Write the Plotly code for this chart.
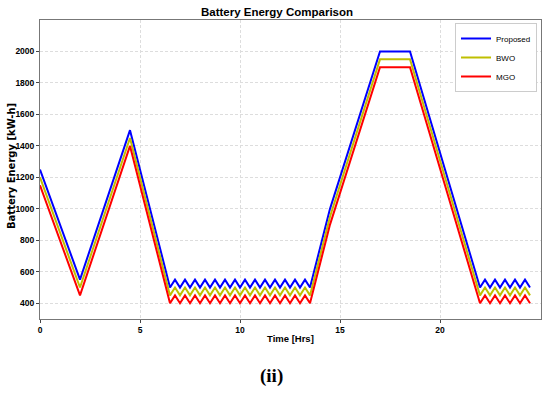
import plotly.graph_objects as go

# ---- data ----
t_first = [0, 2, 4.5, 6.5]
zig1_peaks = [6.75 + 0.5 * k for k in range(14)]
zig1_troughs = [7.0 + 0.5 * k for k in range(14)]
t_mid = [14.5, 17, 18.5, 22]
zig2_peaks = [22.25 + 0.5 * k for k in range(5)]
zig2_troughs = [22.5 + 0.5 * k for k in range(5)]

def build(first_vals, low, high, mid_vals):
    t = list(t_first)
    v = list(first_vals)
    for p, q in zip(zig1_peaks, zig1_troughs):
        t += [p, q]
        v += [high, low]
    t += t_mid
    v += mid_vals
    for p, q in zip(zig2_peaks, zig2_troughs):
        t += [p, q]
        v += [high, low]
    return t, v

series_names = ["Proposed", "BWO", "MGO"]
series_colors = ["#0000FF", "#BFBF00", "#FF0000"]
first_values = {
    "Proposed": [1250, 550, 1500, 500],
    "BWO": [1200, 500, 1450, 450],
    "MGO": [1150, 450, 1400, 400],
}
zig_low = {"Proposed": 500, "BWO": 450, "MGO": 400}
zig_high = {"Proposed": 550, "BWO": 500, "MGO": 450}
mid_values = {
    "Proposed": [1000, 2000, 2000, 500],
    "BWO": [950, 1950, 1950, 450],
    "MGO": [900, 1900, 1900, 400],
}
x_ticks = [0, 5, 10, 15, 20]
y_ticks = [400, 600, 800, 1000, 1200, 1400, 1600, 1800, 2000]

fig = go.Figure()
for name, color in zip(series_names, series_colors):
    t, v = build(first_values[name], zig_low[name], zig_high[name], mid_values[name])
    fig.add_trace(go.Scatter(x=t, y=v, mode="lines", name=name,
                             line=dict(color=color, width=2)))

W, H = 550, 393
L, R, T, B = 40, 9, 20, 74
PW, PH = W - L - R, H - T - B  # 501 x 299

def px(sx):  # screen x -> paper x
    return (sx - L) / PW

def py(sy):  # screen y -> paper y
    return 1 - (sy - T) / PH

tickfont = dict(family="Liberation Sans", size=8.5, color="black", weight="bold")
axis_common = dict(ticks="outside", ticklen=3, tickcolor="#444", tickfont=tickfont,
                   showline=True, linecolor="#777", linewidth=1, mirror=True,
                   showgrid=True, gridcolor="#dddddd", griddash="3px,2px", gridwidth=0.8,
                   zeroline=False, automargin=False)
fig.update_layout(
    width=W, height=H,
    margin=dict(l=L, r=R, t=T, b=B),
    paper_bgcolor="white", plot_bgcolor="white",
    title=dict(text="<b>Battery Energy Comparison</b>", x=277 / W, xanchor="center",
               y=1 - 12 / H, yanchor="middle",
               font=dict(family="Liberation Sans", size=11.5, color="black")),
    legend=dict(x=px(537), y=py(23), xanchor="right", yanchor="top",
                bgcolor="white", bordercolor="#cccccc", borderwidth=1,
                font=dict(family="Liberation Sans", size=8, color="black"),
                tracegroupgap=0, itemwidth=30),
    xaxis=dict(range=[0, 25.05], tickvals=x_ticks, **axis_common),
    yaxis=dict(range=[300, 2200], tickvals=y_ticks, **axis_common),
)
fig.add_annotation(text="<b>Time [Hrs]</b>", xref="paper", yref="paper",
                   x=px(290), y=py(338),
                   xanchor="center", yanchor="middle", showarrow=False,
                   font=dict(family="Liberation Sans", size=9.5, color="black"))
fig.add_annotation(text="<b>Battery Energy [kW-h]</b>", xref="paper", yref="paper",
                   x=px(11), y=py(166), textangle=-90,
                   xanchor="center", yanchor="middle", showarrow=False,
                   font=dict(family="DejaVu Sans", size=10, color="black"))
fig.add_annotation(text="<b>(ii)</b>", xref="paper", yref="paper",
                   x=px(271), y=py(376),
                   xanchor="center", yanchor="middle", showarrow=False,
                   font=dict(family="Liberation Serif", size=19, color="black"))
fig.write_html(
    "out.html",
    config={"displayModeBar": False},
    post_script="document.body.style.margin='0';document.body.style.padding='0';",
)
